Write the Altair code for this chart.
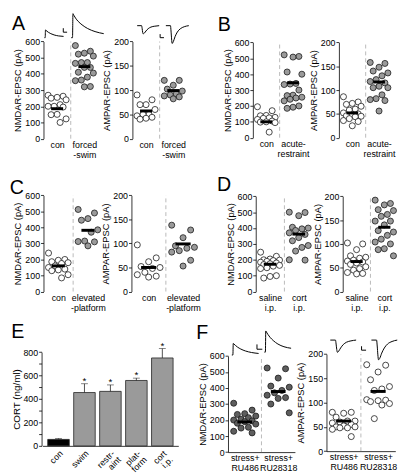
import json
import altair as alt
import pandas as pd

# ---------------- data ----------------
A_nmda_con = [268, 262, 255, 250, 240, 210, 200, 200, 195, 150, 148, 122, 100]
A_nmda_swim = [575, 540, 528, 522, 510, 470, 470, 465, 440, 440, 410, 405, 380, 362, 358, 322, 320]
A_nmda_means = [185, 445]
A_ampa_con = [90, 80, 70, 70, 60, 50, 50, 47, 44, 42, 40]
A_ampa_swim = [120, 120, 110, 102, 98, 92, 90, 88, 86, 82]
A_ampa_means = [57, 99]
A_groups = [["con"], ["forced", "-swim"]]

B_nmda_con = [195, 170, 140, 138, 128, 125, 122, 115, 105, 100, 98, 95, 35]
B_nmda_restraint = [522, 512, 508, 414, 400, 342, 338, 335, 300, 268, 265, 255, 250, 242, 232, 200, 192, 185]
B_nmda_means = [100, 346]
B_ampa_con = [86, 75, 72, 70, 66, 60, 58, 52, 50, 48, 46, 45, 44, 40, 36, 34, 25]
B_ampa_restraint = [158, 156, 148, 140, 136, 130, 122, 118, 115, 108, 105, 105, 90, 82, 80, 78, 56]
B_ampa_means = [52, 117]
B_groups = [["con"], ["acute-", "restraint"]]

C_nmda_con = [240, 200, 195, 186, 180, 175, 160, 150, 140, 135, 130, 105, 85]
C_nmda_platform = [512, 490, 455, 445, 385, 370, 315, 312, 310, 285]
C_nmda_means = [160, 382]
C_ampa_con = [97, 70, 62, 52, 50, 48, 40, 35, 32, 30]
C_ampa_platform = [138, 128, 112, 95, 92, 90, 85, 82, 65, 53]
C_ampa_means = [50, 99]
C_groups = [["con"], ["elevated", "-platform"]]

D_nmda_saline = [248, 222, 205, 200, 198, 195, 190, 185, 180, 175, 170, 165, 160, 150, 145, 100, 95, 85]
D_nmda_cort = [500, 498, 478, 405, 400, 395, 385, 370, 360, 340, 320, 290, 278, 255, 200, 198]
D_nmda_means = [172, 362]
D_ampa_saline = [102, 100, 88, 75, 72, 70, 66, 64, 62, 60, 57, 52, 48, 45, 40, 38, 37]
D_ampa_cort = [192, 185, 182, 172, 170, 162, 158, 148, 148, 140, 128, 125, 118, 110, 104, 100, 90, 88, 75]
D_ampa_means = [63, 135]
D_groups = [["saline", "i.p."], ["cort", "i.p."]]

E_categories = ["con", "swim", "restr-|aint", "plat-|form", "cort|i.p."]
E_values = [55, 455, 465, 558, 750]
E_errors = [8, 75, 55, 20, 80]

F_nmda_ru486 = [305, 262, 240, 235, 225, 215, 205, 200, 195, 190, 180, 175, 155, 150, 130, 120]
F_nmda_ru28318 = [525, 520, 462, 412, 405, 385, 370, 355, 340, 335, 300, 245]
F_nmda_means = [188, 378]
F_ampa_ru486 = [80, 80, 78, 70, 62, 62, 60, 58, 55, 52, 50, 50, 48, 48, 45, 30]
F_ampa_ru28318 = [178, 177, 163, 147, 133, 128, 125, 106, 105, 104, 102, 98, 95, 67]
F_ampa_means = [62, 123]
F_groups = [["stress+", "RU486"], ["stress+", "RU28318"]]

# example traces (ms, pA)
nmda_t = [0, 3, 4, 6, 10, 16, 25, 38, 55, 75]
A_trace_nmda_con = [0, 0, 48, 46, 40, 33, 25, 17, 11, 8]
A_trace_nmda_swim = [0, 0, 150, 140, 122, 102, 80, 57, 38, 25]
F_trace_nmda_ru486 = [0, 0, 60, 57, 50, 41, 31, 21, 13, 8]
F_trace_nmda_ru28318 = [0, 0, 110, 104, 92, 77, 60, 42, 28, 20]
ampa_t = [0, 8, 9, 10, 11, 13, 16, 20, 25, 32, 40]
A_trace_ampa_con = [0, 0, -15, -38, -46, -42, -30, -17, -8, -3, 0]
A_trace_ampa_swim = [0, 0, -30, -75, -100, -90, -62, -36, -18, -6, 0]
F_trace_ampa_ru486 = [0, 0, -20, -48, -62, -56, -40, -23, -11, -4, 0]
F_trace_ampa_ru28318 = [0, 0, -30, -75, -100, -92, -66, -40, -20, -7, 0]
sb_nmda_t, sb_nmda_v = [0, 0, 15], [25, 0, 0]
sb_ampa_t, sb_ampa_v = [0, 0, 7], [20, 0, 0]

# ---------------- layout helpers ----------------
W, H = 402, 468
FONT = "Liberation Sans"


def PX(x):
    return 5 + (x - 3) * (W - 5) / 407


def PY(y):
    return 1 + y * (H - 1) / 476


WHITE, GRAY, DARK = "#ffffff", "#9a9a9a", "#5e5e5e"


def jitter(rank):
    return ((rank * 5) % 7 - 3) * 0.11


def yaxis_def(offset_px, values, title, title_size=9.5, label_expr=None):
    kw = dict(orient="left", offset=offset_px, values=values, tickSize=3, labelFontSize=9,
              labelColor="black", labelOpacity=1, labelAlign="right", labelBaseline="middle",
              labelAngle=0, labelFlush=False, labelPadding=1, title=title, titleFontSize=title_size,
              titleFontWeight="normal", titlePadding=2, grid=False, labels=True)
    if label_expr:
        kw["labelExpr"] = label_expr
    return alt.Axis(**kw)


def scatter_panel(vals0, vals1, means, fills, ymax, ystep, xr, yr, title, labels, xdomain=False):
    rows = []
    for g, vals in enumerate([vals0, vals1]):
        order = sorted(range(len(vals)), key=lambda k: -vals[k])
        for rank, k in enumerate(order):
            rows.append({"x": g + 0.5 + jitter(rank), "y": vals[k], "fill": fills[g]})
    pts = pd.DataFrame(rows)
    mdf = pd.DataFrame({"x": [0.28, 1.28], "x2": [0.72, 1.72], "y": means})
    ddf = pd.DataFrame({"x": [1.0], "y": [0], "y2": [ymax]})
    expr = f"datum.value < 1 ? {json.dumps(labels[0])} : {json.dumps(labels[1])}"
    xs = alt.Scale(domain=[0, 2], range=[PX(xr[0]), PX(xr[1])], nice=False, zero=False)
    ys = alt.Scale(domain=[0, ymax], range=[PY(yr[0]), PY(yr[1])], nice=False, zero=False)
    xaxis = alt.Axis(orient="bottom", offset=-(H - PY(yr[0])), values=[0.5, 1.5], labelExpr=expr,
                     domain=xdomain, ticks=False, tickSize=0, labelPadding=2, labelFontSize=9,
                     labelLineHeight=10, title=None, grid=False, labelAngle=0, labelAlign="center",
                     labelBaseline="top", labelFlush=False)
    yaxis = yaxis_def(-PX(xr[0]), list(range(0, ymax + 1, ystep)), title)
    X = alt.X("x:Q", scale=xs, axis=xaxis)
    Y = alt.Y("y:Q", scale=ys, axis=yaxis)
    dashed = alt.Chart(ddf).mark_rule(color="#a8a8a8", strokeDash=[4, 3], strokeWidth=0.8).encode(
        x=X, y=Y, y2="y2:Q")
    points = alt.Chart(pts).mark_circle(size=38, stroke="#1a1a1a", strokeWidth=0.8, opacity=1).encode(
        x=X, y=Y, fill=alt.Fill("fill:N", scale=None))
    mean_marks = alt.Chart(mdf).mark_rule(color="black", strokeWidth=3).encode(x=X, x2="x2:Q", y=Y)
    return alt.layer(dashed, points, mean_marks)


def line_layer(t, v, xdom, xr, ydom, yr, interp="monotone"):
    df = pd.DataFrame({"t": t, "v": v, "o": list(range(len(t)))})
    return alt.Chart(df).mark_line(color="black", strokeWidth=1, interpolate=interp).encode(
        x=alt.X("t:Q", scale=alt.Scale(domain=xdom, range=[PX(xr[0]), PX(xr[1])], nice=False, zero=False), axis=None),
        y=alt.Y("v:Q", scale=alt.Scale(domain=ydom, range=[PY(yr[0]), PY(yr[1])], nice=False, zero=False), axis=None),
        order="o:Q")


def letter(s, x, y):
    return alt.Chart(pd.DataFrame({"a": [0]})).mark_text(
        text=s, fontSize=20, font=FONT, align="center", baseline="middle", color="black").encode(
        x=alt.value(max(PX(x), 7.5)), y=alt.value(PY(y)))


layers = []
# ---- scatter panels ----
layers.append(scatter_panel(A_nmda_con, A_nmda_swim, A_nmda_means, [WHITE, GRAY], 600, 100,
                            (35, 92), (130, 29), "NMDAR-EPSC  (pA)", A_groups))
layers.append(scatter_panel(A_ampa_con, A_ampa_swim, A_ampa_means, [WHITE, GRAY], 200, 50,
                            (128, 185), (130, 29), "AMPAR-EPSC  (pA)", A_groups))
layers.append(scatter_panel(B_nmda_con, B_nmda_restraint, B_nmda_means, [WHITE, GRAY], 600, 100,
                            (254, 310), (129, 30), "NMDAR-EPSC (pA)", B_groups))
layers.append(scatter_panel(B_ampa_con, B_ampa_restraint, B_ampa_means, [WHITE, GRAY], 200, 50,
                            (344, 400), (129, 30), "AMPAR-EPSC (pA)", B_groups))
layers.append(scatter_panel(C_nmda_con, C_nmda_platform, C_nmda_means, [WHITE, GRAY], 600, 100,
                            (35, 97), (289, 189), "NMDAR-EPSC (pA)", C_groups))
layers.append(scatter_panel(C_ampa_con, C_ampa_platform, C_ampa_means, [WHITE, GRAY], 200, 50,
                            (127, 199), (289, 189), "AMPAR-EPSC (pA)", C_groups))
layers.append(scatter_panel(D_nmda_saline, D_nmda_cort, D_nmda_means, [WHITE, GRAY], 600, 100,
                            (257, 317), (289, 190), "NMDAR-EPSC  (pA)", D_groups))
layers.append(scatter_panel(D_ampa_saline, D_ampa_cort, D_ampa_means, [WHITE, GRAY], 200, 50,
                            (348, 406), (289, 190), "AMPAR-EPSC  (pA)", D_groups))
layers.append(scatter_panel(F_nmda_ru486, F_nmda_ru28318, F_nmda_means, [DARK, DARK], 600, 100,
                            (228, 298), (456, 356), "NMDAR-EPSC (pA)", F_groups, xdomain=True))
layers.append(scatter_panel(F_ampa_ru486, F_ampa_ru28318, F_ampa_means, [WHITE, WHITE], 200, 50,
                            (331, 403), (455, 354), "AMPAR-EPSC (pA)", F_groups, xdomain=True))

# ---- E bar chart ----
edf = pd.DataFrame({"cat": E_categories, "val": E_values, "err": E_errors})
edf["top"] = edf["val"] + edf["err"]
edf["fill"] = ["black"] + [GRAY] * (len(edf) - 1)
exs = alt.Scale(domain=E_categories, range=[PX(34), PX(176)], paddingInner=0.17, paddingOuter=0.2)
eys = alt.Scale(domain=[0, 800], range=[PY(449.5), PY(352)], nice=False, zero=False)
exaxis = alt.Axis(orient="bottom", offset=-(H - PY(449.5)), labelAngle=-45,
                  labelExpr="split(datum.label, '|')", ticks=False, tickSize=0, labelPadding=3,
                  labelFontSize=9, labelLineHeight=9, title=None)
eyaxis = yaxis_def(-PX(33), list(range(0, 801, 100)), "CORT (ng/ml)", title_size=10,
                   label_expr="datum.value % 200 == 0 ? datum.label : ''")
EX = alt.X("cat:N", scale=exs, axis=exaxis, sort=E_categories)


def EY(f):
    return alt.Y(f"{f}:Q", scale=eys, axis=eyaxis)


ebars = alt.Chart(edf).mark_bar(stroke="#222222", strokeWidth=0.8).encode(
    x=EX, y=EY("val"), fill=alt.Fill("fill:N", scale=None))
eerr = alt.Chart(edf).mark_rule(color="#222222", strokeWidth=0.8).encode(x=EX, y=EY("val"), y2="top:Q")
ecap = alt.Chart(edf).mark_tick(color="#222222", size=7, thickness=0.8).encode(x=EX, y=EY("top"))
estar = alt.Chart(edf[edf["cat"] != "con"]).mark_text(text="*", fontSize=10, dy=-3, baseline="middle",
                                                        color="black").encode(x=EX, y=EY("top"))
layers.append(alt.layer(ebars, eerr, ecap, estar))

# ---- example traces and scale bars ----
layers.append(line_layer(nmda_t, A_trace_nmda_con, [0, 75], (36, 56), [0, 150], (25, 0)))
layers.append(line_layer(nmda_t, A_trace_nmda_swim, [0, 75], (64, 98), [0, 150], (25, 0)))
layers.append(line_layer(sb_nmda_t, sb_nmda_v, [0, 75], (55.7, 75.7), [0, 150], (19.3, -5.7), "linear"))
layers.append(line_layer(ampa_t, A_trace_ampa_con, [0, 40], (133, 156), [-100, 0], (31, 12.5)))
layers.append(line_layer(ampa_t, A_trace_ampa_swim, [0, 40], (163, 187), [-100, 0], (31, 12.5)))
layers.append(line_layer(sb_ampa_t, sb_ampa_v, [0, 40], (157, 180), [0, 100], (25, 6.5), "linear"))
layers.append(line_layer(nmda_t, F_trace_nmda_ru486, [0, 75], (232, 260), [0, 120], (355, 331)))
layers.append(line_layer(nmda_t, F_trace_nmda_ru28318, [0, 75], (266, 294), [0, 120], (352, 328)))
layers.append(line_layer(sb_nmda_t, sb_nmda_v, [0, 75], (258.3, 286.3), [0, 120], (349, 325), "linear"))
layers.append(line_layer(ampa_t, F_trace_ampa_ru486, [0, 40], (335, 362), [-100, 0], (360, 339.5)))
layers.append(line_layer(ampa_t, F_trace_ampa_ru28318, [0, 40], (378, 405), [-100, 0], (360, 339.5)))
layers.append(line_layer(sb_ampa_t, sb_ampa_v, [0, 40], (367.7, 394.7), [0, 100], (350, 329.5), "linear"))

# ---- panel letters ----
for s, x, y in [("A", 9, 11), ("B", 224, 12), ("C", 7, 181), ("D", 224, 178), ("E", 8, 331), ("F", 201, 332)]:
    layers.append(letter(s, x, y))

chart = alt.layer(*layers).resolve_scale(x="independent", y="independent").properties(
    width=W, height=H, padding=0, autosize=alt.AutoSizeParams(type="none")
).configure_view(stroke=None).configure_axis(
    labelFont=FONT, titleFont=FONT, labelColor="black", titleColor="black",
    domainColor="black", tickColor="black", domainWidth=0.8, tickWidth=0.8
).configure_text(font=FONT)

chart.save("out.html", embed_options={"renderer": "svg", "actions": False})
